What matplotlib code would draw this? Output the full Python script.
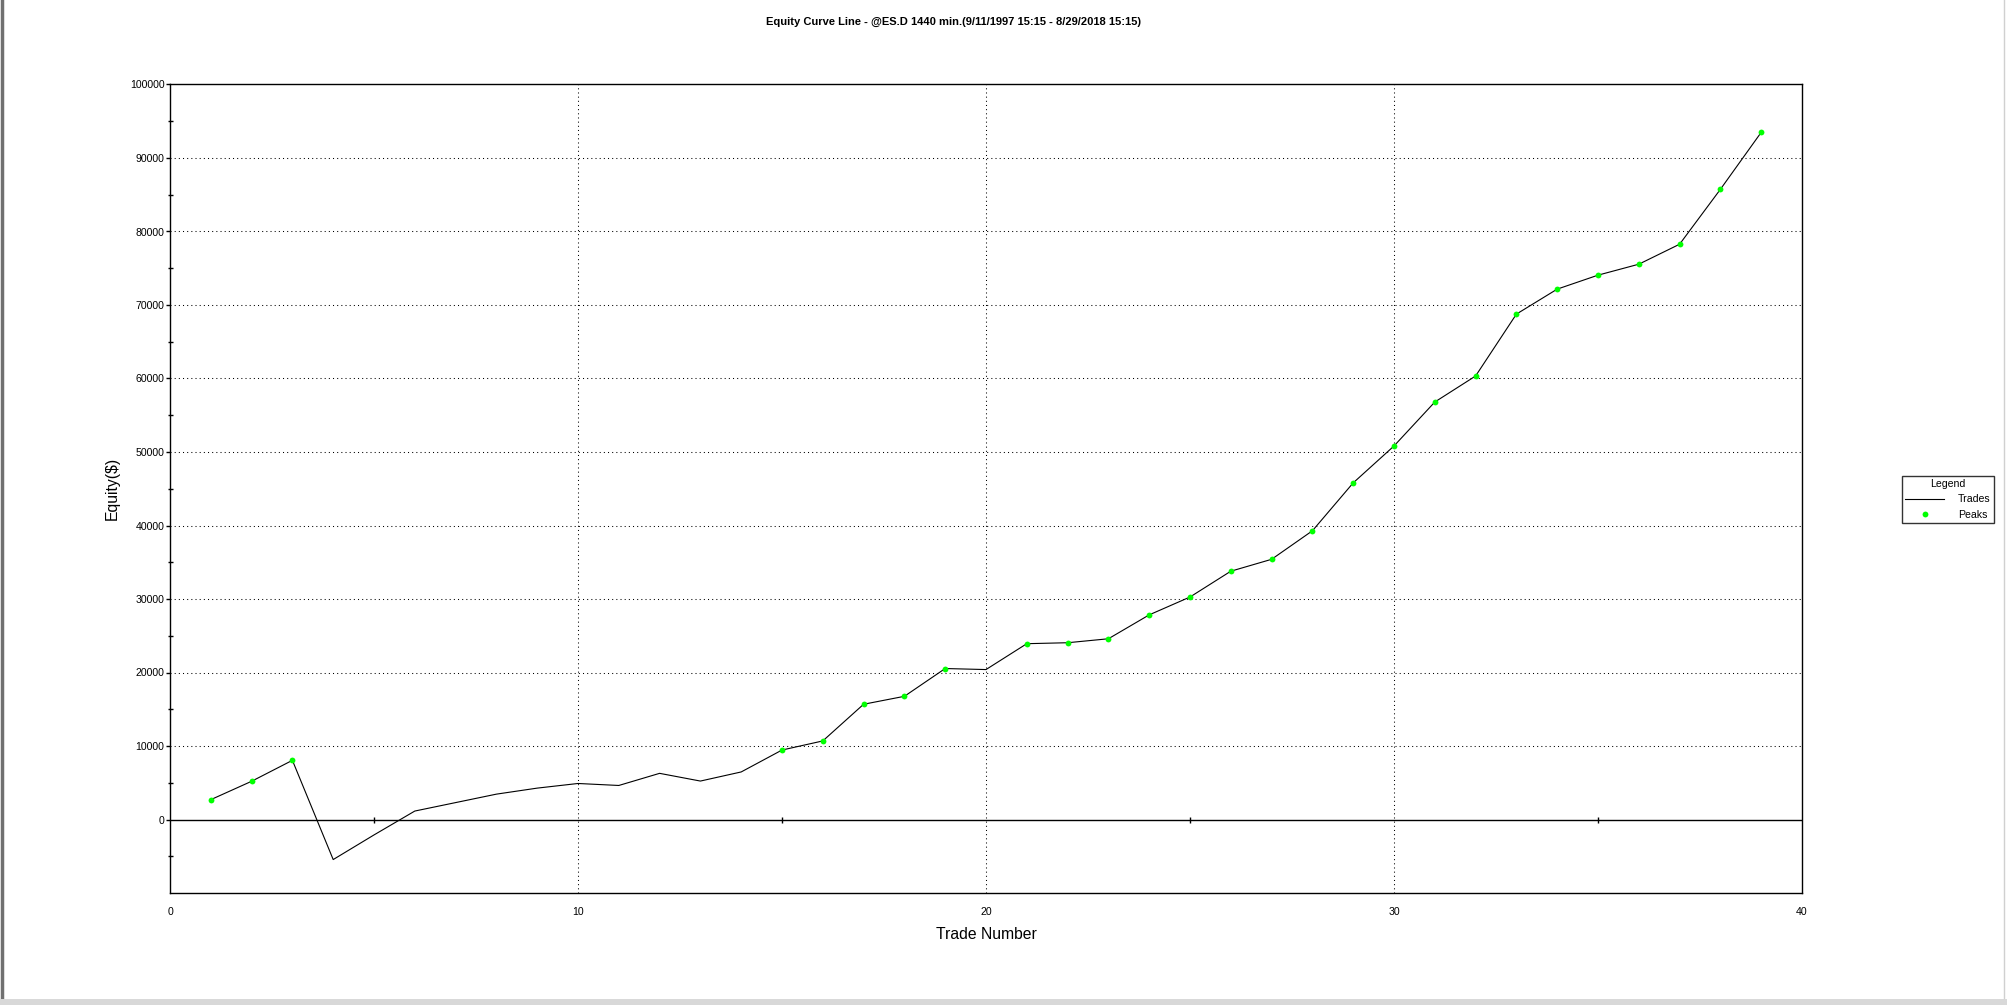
import numpy as np
import matplotlib
matplotlib.use("Agg")
import matplotlib.pyplot as plt
from matplotlib.lines import Line2D

plt.rcParams['font.family'] = ['Liberation Sans', 'DejaVu Sans']

# trade number vs cumulative equity
trades = list(range(1, 40))
equity = [2700, 5200, 8050, -5450, -2100, 1150, 2300, 3450, 4270, 4900,
          4630, 6280, 5230, 6470, 9450, 10690, 15680, 16760, 20540, 20400,
          23920, 24050, 24590, 27840, 30270, 33780, 35400, 39280, 45800, 50820,
          56800, 60340, 68760, 72160, 74060, 75550, 78270, 85740, 93490]

title = 'Equity Curve Line - @ES.D 1440 min.(9/11/1997 15:15 - 8/29/2018 15:15)'

# peaks = new equity highs
peak_x, peak_y = [], []
best = -np.inf
for t, e in zip(trades, equity):
    if e > best:
        best = e
        if e > 0:
            peak_x.append(t)
            peak_y.append(e)

fig = plt.figure(figsize=(20.07, 10.05), dpi=100)
ax = fig.add_axes([170/2007, 1 - 893/1005, (1802-170)/2007, (893-84.5)/1005])

ax.plot(trades, equity, color='black', lw=0.8, zorder=3)
ax.plot(peak_x, peak_y, 'o', color='#00ff00', ms=4.2, mew=0, zorder=4)
ax.axhline(0, color='black', lw=1.0, zorder=2)

ax.set_xlim(0, 40)
ax.set_ylim(-10000, 100000)
ax.set_xticks([0, 10, 20, 30, 40])
ax.set_yticks(range(0, 100001, 10000))
ax.set_yticks(range(-5000, 100001, 5000), minor=True)
ax.tick_params(axis='x', length=0, pad=10, labelsize=7.6)
ax.tick_params(axis='y', which='major', direction='out', length=3, width=1.0, pad=1, labelsize=7.6)
ax.tick_params(axis='y', which='minor', direction='inout', length=3.6, width=1.0)

# dotted grid
for v in [10, 20, 30]:
    ax.axvline(v, color='black', lw=0.75, ls=(0, (1, 3)), zorder=1)
for v in range(10000, 100000, 10000):
    ax.axhline(v, color='black', lw=0.75, ls=(0, (1, 3)), zorder=1)

for s in ax.spines.values():
    s.set_linewidth(1.0)

# ticks drawn on the zero line
sec = ax.secondary_xaxis(10000/110000)
sec.set_xticks([5, 15, 25, 35])
sec.tick_params(direction='inout', length=4.3, width=1.0, labelbottom=False, labeltop=False)
sec.spines['bottom'].set_visible(False)
sec.spines['top'].set_visible(False)

ax.set_ylabel('Equity($)', fontsize=11.3, labelpad=7)
ax.set_xlabel('Trade Number', fontsize=11.3, labelpad=7)
fig.text(953/2007, 1 - 22/1005, title, ha='center', va='center', fontsize=8, fontweight='bold')

handles = [Line2D([], [], color='black', lw=0.8),
           Line2D([], [], ls='', marker='o', color='#00ff00', ms=4.2, mew=0)]
leg = fig.legend(handles, ['Trades', 'Peaks'], title='Legend', loc='upper left',
                 bbox_to_anchor=(1901.5/2007, 1 - 475.5/1005), fontsize=7.6, title_fontsize=7.6,
                 frameon=True, fancybox=False, edgecolor='black', handlelength=3.7,
                 handletextpad=1.3, borderpad=0.35, borderaxespad=0, labelspacing=0.5)
leg.get_frame().set_linewidth(1.0)

# window border bits
fig.add_artist(Line2D([0.0008, 0.0008], [0, 1], color='#707070', lw=2.5, transform=fig.transFigure))
fig.add_artist(Line2D([0.9985, 0.9985], [0, 1], color='#d0d0d0', lw=1, transform=fig.transFigure))
fig.add_artist(Line2D([0, 1], [0.003, 0.003], color='#d8d8d8', lw=5, transform=fig.transFigure))

fig.savefig('out.png', dpi=100)
